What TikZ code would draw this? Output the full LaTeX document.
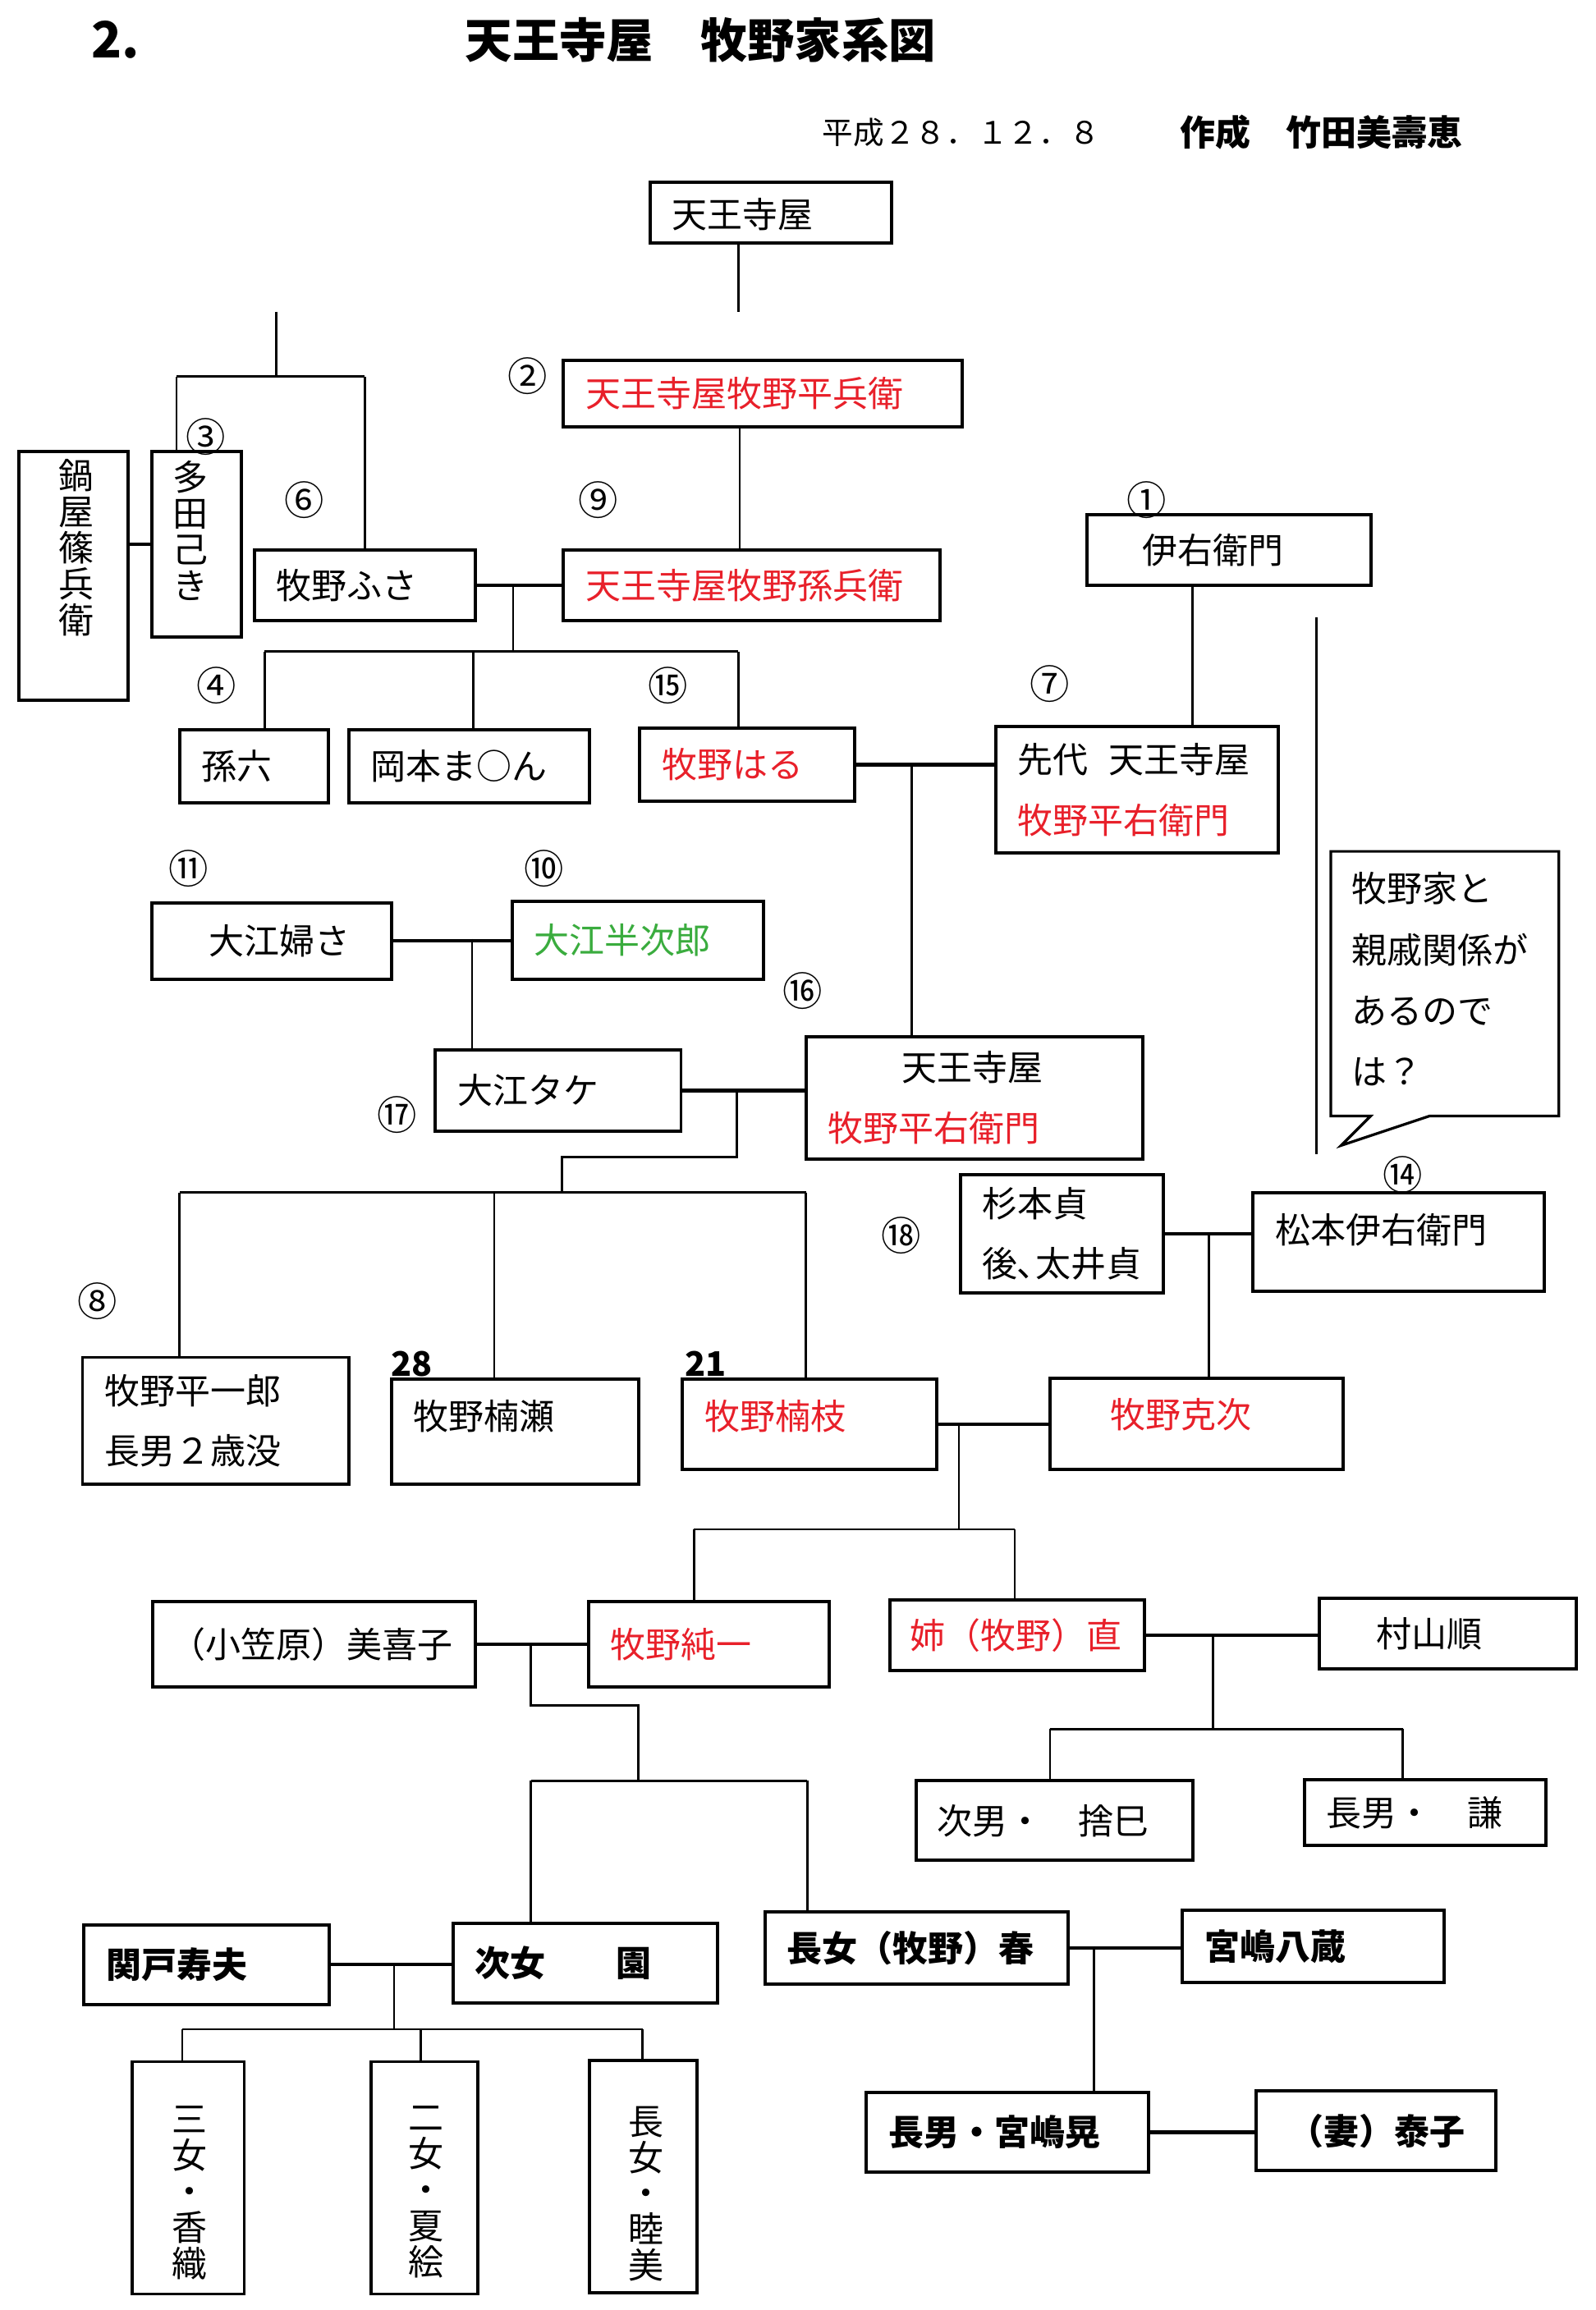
\documentclass[tikz,border=0pt]{standalone}
\usepackage{fontspec}
\setmainfont{Noto Sans CJK JP}
\usetikzlibrary{calc}

\definecolor{kred}{RGB}{232,32,42}
\definecolor{kgreen}{RGB}{58,172,62}

\tikzset{every picture/.style={line width=0.75pt}}
\tikzset{
  box/.style={draw, line width=2.2pt, anchor=north west, inner xsep=15pt, inner ysep=0pt, align=left, font=\fontsize{24}{41}\selectfont},
  boldbox/.style={box, font=\fontsize{24}{41}\selectfont\bfseries},
  vbox/.style={draw, line width=2.2pt, anchor=north west, inner sep=0pt},
  vtext/.style={anchor=north, inner sep=0pt, align=center, font=\fontsize{24}{24.5}\selectfont},
  link/.style={line width=1.5pt},
  pair/.style={line width=2.4pt},
  num/.style={inner sep=0pt, font=\fontsize{27}{27}\selectfont},
  age/.style={inner sep=0pt, font=\fontsize{23}{23}\selectfont\bfseries},
  lift/.style={text depth=#1},
}

\begin{document}
\begin{tikzpicture}[x=1pt,y=1pt,yscale=-1,xscale=1]
	\useasboundingbox (0,0) rectangle (1085,1571);

	% Text Node
	\node[anchor=west, inner sep=0pt, font=\fontsize{34}{34}\selectfont\bfseries] (chapter) at (62,27) {2.};
	% Text Node
	\node[anchor=west, inner sep=0pt, font=\fontsize{32}{32}\selectfont\bfseries] (title) at (316,27) {天王寺屋　牧野家系図};
	% Text Node
	\node[anchor=west, inner sep=0pt, font=\fontsize{21}{21}\selectfont] (date) at (559,90) {平成２８．１２．８};
	% Text Node
	\node[anchor=west, inner sep=0pt, font=\fontsize{24}{24}\selectfont\bfseries] (maker) at (802,90) {作成　竹田美壽恵};

	%Shape: Rectangle
	\node[box, text width=134pt, minimum height=41pt, text depth=0pt] (tennojiya) at (441,123) {天王寺屋};
	\node[box, text width=241pt, minimum height=45pt, text=kred] (heibee) at (382,244) {天王寺屋牧野平兵衛};
	\node[box, text width=226pt, minimum height=48pt, text=kred] (magobee) at (382,373) {天王寺屋牧野孫兵衛};
	\node[box, text width=120pt, minimum height=48pt] (fusa) at (172,373) {牧野ふさ};
	\node[vbox, minimum width=74pt, minimum height=169pt] (nabeya) at (12,306) {};
	\node[vbox, minimum width=61pt, minimum height=126pt] (tada) at (102,306) {};
	\node[box, text width=71pt, minimum height=50pt] (magoroku) at (121,495) {孫六};
	\node[box, text width=134pt, minimum height=50pt] (okamoto) at (236,495) {岡本ま○ん};
	\node[box, text width=116pt, minimum height=50pt, text=kred] (haru) at (434,494) {牧野はる};
	\node[box, text width=163pt, minimum height=48pt] (iuemon) at (738,349) {\hspace*{23pt}伊右衛門};
	\node[box, text width=162pt, minimum height=86pt] (sendai) at (676,493) {先代\hspace{14pt}天王寺屋\\{\color{kred}牧野平右衛門}};

	%Shape: Rectangle
	\node[box, text width=133pt, minimum height=52pt] (oefusa) at (102,613) {\hspace*{24pt}大江婦さ};
	\node[box, text width=141pt, minimum height=53pt, text=kgreen] (hanjiro) at (347,612) {大江半次郎};
	\node[box, text width=137pt, minimum height=55pt] (take) at (295,713) {大江タケ};
	\node[box, text width=199pt, minimum height=83pt] (heiemon) at (547,704) {\hspace*{50pt}天王寺屋\\{\color{kred}牧野平右衛門}};
	\node[box, text width=108pt, minimum height=80pt] (sugimoto) at (652,798) {杉本貞\\後､太井貞};
	\node[box, text width=168pt, minimum height=67pt, lift=18pt] (matsumoto) at (851,810) {松本伊右衛門};

	%Shape: Rectangle
	\node[box, text width=151pt, minimum height=86pt] (heiichiro) at (55,922) {牧野平一郎\\長男２歳没};
	\node[box, text width=138pt, minimum height=71pt, lift=23pt] (kusunose) at (265,937) {牧野楠瀬};
	\node[box, text width=143pt, minimum height=61pt, lift=13pt, text=kred] (kusue) at (463,937) {牧野楠枝};
	\node[box, text width=169pt, minimum height=62pt, lift=14pt, text=kred] (katsuji) at (713,936) {\hspace*{26pt}牧野克次};

	%Shape: Rectangle
	\node[box, text width=195pt, minimum height=58pt, inner xsep=12pt] (mikiko) at (103,1088) {（小笠原）美喜子};
	\node[box, text width=134pt, minimum height=58pt, text=kred] (junichi) at (399,1088) {牧野純一};
	\node[box, text width=145pt, minimum height=48pt, inner xsep=14pt, text=kred] (nao) at (604,1087) {姉（牧野）直};
	\node[box, text width=145pt, minimum height=48pt] (murayama) at (896,1086) {\hspace*{24pt}村山順};
	\node[box, text width=160pt, minimum height=54pt, inner xsep=14pt] (jinan) at (622,1210) {次男・　捨巳};
	\node[box, text width=134pt, minimum height=45pt] (chonan) at (886,1209) {長男・　謙};

	%Shape: Rectangle
	\node[boldbox, text width=137pt, minimum height=54pt] (sekido) at (56,1308) {関戸寿夫};
	\node[boldbox, text width=150pt, minimum height=54pt] (jijo) at (307,1307) {次女　　園};
	\node[boldbox, text width=176pt, minimum height=49pt] (haruko) at (519,1299) {長女（牧野）春};
	\node[boldbox, text width=148pt, minimum height=49pt] (miyajima) at (803,1298) {宮嶋八蔵};
	\node[boldbox, text width=162pt, minimum height=54pt] (akira) at (588,1422) {長男・宮嶋晃};
	\node[boldbox, text width=133pt, minimum height=54pt] (yasuko) at (853,1421) {\hspace*{7pt}（妻）泰子};
	\node[vbox, minimum width=76pt, minimum height=158pt] (sanjo) at (89,1401) {};
	\node[vbox, minimum width=73pt, minimum height=158pt] (nijo) at (251,1401) {};
	\node[vbox, minimum width=73pt, minimum height=158pt] (chojo) at (400,1400) {};

	% Text Node
	\node[vtext] (nabeyatext) at ($(nabeya.north)+(2,6)$) {鍋\\屋\\篠\\兵\\衛};
	\node[vtext] (tadatext) at ($(tada.north)+(-4,7)$) {多\\田\\己\\き};
	\node[vtext] (sanjotext) at ($(sanjo.north)+(1,31)$) {三\\女\\・\\香\\織};
	\node[vtext] (nijotext) at ($(nijo.north)+(1,31)$) {二\\女\\・\\夏\\絵};
	\node[vtext] (chojotext) at ($(chojo.north)+(2,32)$) {長\\女\\・\\睦\\美};

	%Straight Lines
	\coordinate (topend) at (502,212);
	\draw[link] (tennojiya.south -| topend) -- (topend);
	\coordinate (upend) at (188,212);
	\coordinate (upbus) at (188,256);
	\coordinate (upl) at (120,256);
	\coordinate (upr) at (248,256);
	\draw[link] (upend) -- (upbus);
	\draw[link] (upl) -- (upr);
	\draw[link] (upl) -- (upl |- tada.north);
	\draw[link] (upr) -- (upr |- fusa.north);
	\coordinate (heiline) at (503,0);
	\draw[link] (heibee.south -| heiline) -- (magobee.north -| heiline);
	\draw[pair] (tada.west -| nabeya.east) -- (tada.west);

	%Straight Lines
	\draw[pair] (fusa.east) -- (magobee.west);
	\coordinate (fusaj) at (349,397);
	\coordinate (fusab) at (349,443);
	\coordinate (fusabl) at (180,443);
	\coordinate (fusabm) at (322,443);
	\coordinate (fusabr) at (502,443);
	\draw[link] (fusaj) -- (fusab);
	\draw[link] (fusabl) -- (fusabr);
	\draw[link] (fusabl) -- (fusabl |- magoroku.north);
	\draw[link] (fusabm) -- (fusabm |- okamoto.north);
	\draw[link] (fusabr) -- (fusabr |- haru.north);

	%Straight Lines
	\coordinate (iueline) at (811,0);
	\draw[link] (iuemon.south -| iueline) -- (sendai.north -| iueline);
	\draw[pair] (haru.east) -- (haru.east -| sendai.west);
	\coordinate (haruj) at (620,519);
	\draw[link] (haruj) -- (haruj |- heiemon.north);

	%Straight Lines
	\draw[pair] (hanjiro.west -| oefusa.east) -- (hanjiro.west);
	\coordinate (oej) at (321,638.5);
	\draw[link] (oej) -- (oej |- take.north);
	\draw[pair] (take.east) -- (take.east -| heiemon.west);
	\coordinate (takej) at (501,740.5);
	\coordinate (takea) at (501,787);
	\coordinate (takeb) at (382,787);
	\coordinate (takec) at (382,811);
	\coordinate (kidl) at (122,811);
	\coordinate (kidm) at (336,811);
	\coordinate (kidr) at (548,811);
	\draw[link] (takej) -- (takea) -- (takeb) -- (takec);
	\draw[link] (kidl) -- (kidr);
	\draw[link] (kidl) -- (kidl |- heiichiro.north);
	\draw[link] (kidm) -- (kidm |- kusunose.north);
	\draw[link] (kidr) -- (kidr |- kusue.north);

	%Straight Lines
	\draw[pair] (sugimoto.east) -- (sugimoto.east -| matsumoto.west);
	\coordinate (sugij) at (822,838);
	\draw[link] (sugij) -- (sugij |- katsuji.north);
	\draw[pair] (kusue.east) -- (kusue.east -| katsuji.west);
	\coordinate (kusuej) at (652,967.5);
	\coordinate (kusuea) at (652,1040);
	\coordinate (grandl) at (472,1040);
	\coordinate (grandr) at (690,1040);
	\draw[link] (kusuej) -- (kusuea);
	\draw[link] (grandl) -- (grandr);
	\draw[link] (grandl) -- (grandl |- junichi.north);
	\draw[link] (grandr) -- (grandr |- nao.north);

	%Straight Lines
	\draw[pair] (mikiko.east) -- (mikiko.east -| junichi.west);
	\coordinate (junj) at (361,1117);
	\coordinate (juna) at (361,1160);
	\coordinate (junb) at (434,1160);
	\coordinate (junc) at (434,1211);
	\coordinate (greatl) at (361,1211);
	\coordinate (greatr) at (549,1211);
	\draw[link] (junj) -- (juna) -- (junb) -- (junc);
	\draw[link] (greatl) -- (greatr);
	\draw[link] (greatl) -- (greatl |- jijo.north);
	\draw[link] (greatr) -- (greatr |- haruko.north);
	\draw[pair] (nao.east) -- (nao.east -| murayama.west);
	\coordinate (naoj) at (825,1111);
	\coordinate (naoa) at (825,1176);
	\coordinate (naol) at (714,1176);
	\coordinate (naor) at (954,1176);
	\draw[link] (naoj) -- (naoa);
	\draw[link] (naol) -- (naor);
	\draw[link] (naol) -- (naol |- jinan.north);
	\draw[link] (naor) -- (naor |- chonan.north);

	%Straight Lines
	\draw[pair] (sekido.east) -- (sekido.east -| jijo.west);
	\coordinate (sekij) at (268,1335);
	\coordinate (sekia) at (268,1380);
	\coordinate (girll) at (124,1380);
	\coordinate (girlm) at (286,1380);
	\coordinate (girlr) at (437,1380);
	\draw[link] (sekij) -- (sekia);
	\draw[link] (girll) -- (girlr);
	\draw[link] (girll) -- (girll |- sanjo.north);
	\draw[link] (girlm) -- (girlm |- nijo.north);
	\draw[link] (girlr) -- (girlr |- chojo.north);
	\draw[pair] (haruko.east) -- (haruko.east -| miyajima.west);
	\coordinate (haruj2) at (744,1323.5);
	\draw[link] (haruj2) -- (haruj2 |- akira.north);
	\draw[pair] (akira.east) -- (akira.east -| yasuko.west);

	%Straight Lines
	\coordinate (askt) at (895,420);
	\coordinate (askb) at (895,785);
	\draw[link] (askt) -- (askb);

	%Shape: Callout
	\draw[line width=1.8pt] (905,579) -- (1060,579) -- (1060,759) -- (972,759) -- (912,779) -- (932,759) -- (905,759) -- cycle;
	% Text Node
	\node[anchor=west, inner sep=0pt, align=left, font=\fontsize{24}{41.5}\selectfont] (note) at (919,666) {牧野家と\\親戚関係が\\あるので\\は？};

	% Text Node
	\node[num] (n1) at (780,340) {①};
	\node[num] (n2) at (359,256) {②};
	\node[num] (n3) at (140,297) {③};
	\node[num] (n4) at (147,466) {④};
	\node[num] (n6) at (207,340) {⑥};
	\node[num] (n7) at (714,465) {⑦};
	\node[num] (n8) at (66,885) {⑧};
	\node[num] (n9) at (407,340) {⑨};
	\node[num] (n10) at (370,591) {⑩};
	\node[num] (n11) at (128,591) {⑪};
	\node[num] (n14) at (954,799) {⑭};
	\node[num] (n15) at (454,466) {⑮};
	\node[num] (n16) at (546,674) {⑯};
	\node[num] (n17) at (270,758) {⑰};
	\node[num] (n18) at (613,840) {⑱};
	\node[age] (age28) at (280,927.5) {28};
	\node[age] (age21) at (480,927.5) {21};

\end{tikzpicture}
\end{document}
